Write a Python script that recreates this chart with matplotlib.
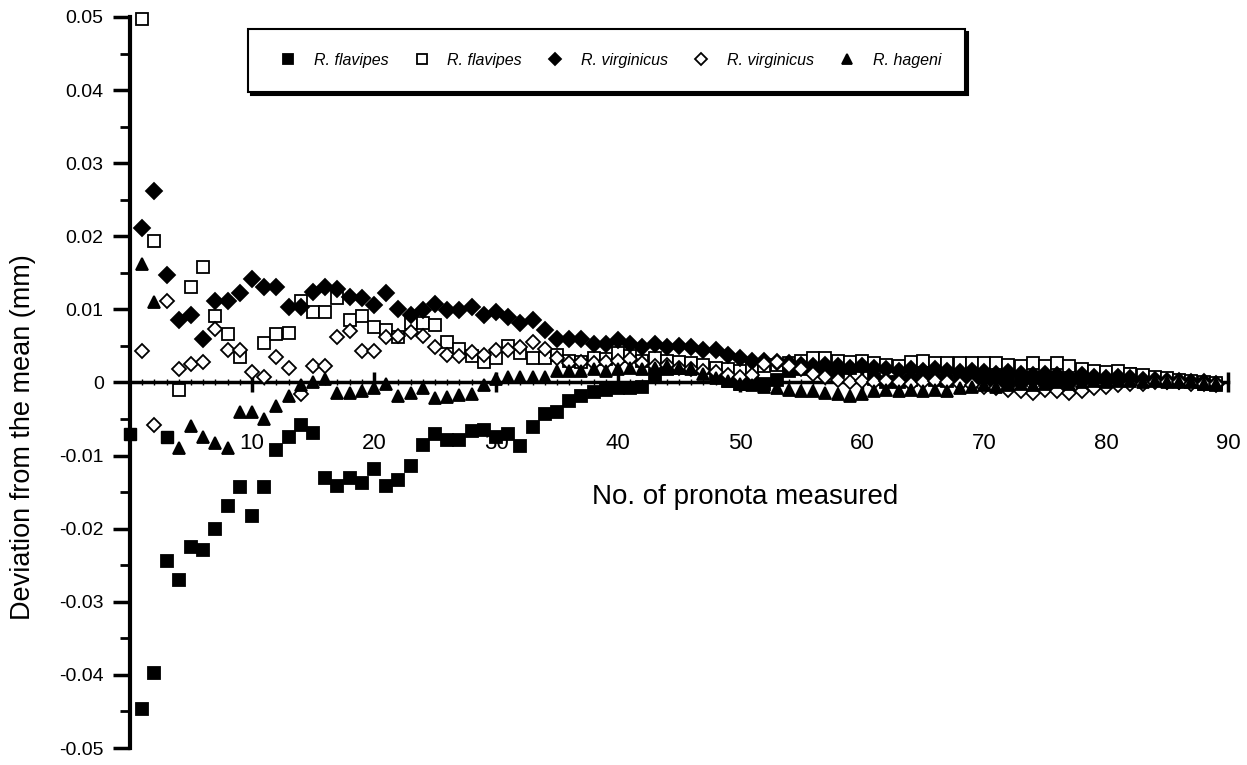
import numpy as np
import matplotlib
matplotlib.use("Agg")
import matplotlib.pyplot as plt
from matplotlib.ticker import MultipleLocator
from matplotlib.lines import Line2D

plt.rcParams['font.family'] = ['Liberation Sans', 'DejaVu Sans']

# number of pronota measured (x) for every series
n = np.arange(1, 90)
nan = np.nan

# R. flavipes (filled squares)
flav_fill = [-0.0447, -0.0397, -0.0244, -0.0270, -0.0225, -0.0229, -0.0201, -0.0169, -0.0143, -0.0183,
             -0.0143, -0.0092, -0.0074, -0.0058, -0.0069, -0.0130, -0.0141, -0.0131, -0.0138, -0.0118,
             -0.0141, -0.0134, -0.0114, -0.0085, -0.0070, -0.0078, -0.0078, -0.0067, -0.0065, -0.0075,
             -0.0071, -0.0087, -0.0061, -0.0043, -0.0041, -0.0025, -0.0019, -0.0013, -0.0010, -0.0008,
             -0.0007, -0.0006, 0.0010, 0.0018, 0.0020, 0.0022, 0.0020, 0.0008, 0.0002, -0.0002,
             0.0000, -0.0002, 0.0004, 0.0016, 0.0018, 0.0020, 0.0018, 0.0016, 0.0020, 0.0022,
             0.0005, 0.0000, 0.0000, 0.0004, 0.0006, 0.0004, 0.0002, 0.0006, 0.0008, 0.0006,
             0.0004, 0.0002, 0.0004, 0.0006, 0.0004, 0.0002, 0.0004, 0.0006, 0.0010, 0.0012,
             0.0010, 0.0012, 0.0008, 0.0006, 0.0004, 0.0002, 0.0000, -0.0002, -0.0004]
# two stray filled squares near the start
flav_fill_extra_x = [0, 3]
flav_fill_extra_y = [-0.0070, -0.0075]

# R. flavipes (open squares)
flav_open = [0.0497, 0.0193, nan, -0.0010, 0.0131, 0.0158, 0.0091, 0.0066, 0.0035, nan,
             0.0054, 0.0066, 0.0068, 0.0112, 0.0097, 0.0097, 0.0115, 0.0086, 0.0091, 0.0076,
             0.0072, 0.0062, 0.0081, 0.0081, 0.0078, 0.0055, 0.0046, 0.0036, 0.0028, 0.0034,
             0.0050, 0.0040, 0.0033, 0.0034, 0.0038, 0.0030, 0.0028, 0.0034, 0.0032, 0.0040,
             0.0036, 0.0030, 0.0034, 0.0030, 0.0028, 0.0026, 0.0024, 0.0020, 0.0018, 0.0016,
             0.0020, 0.0022, 0.0024, 0.0026, 0.0030, 0.0034, 0.0033, 0.0030, 0.0028, 0.0030,
             0.0026, 0.0024, 0.0022, 0.0028, 0.0030, 0.0026, 0.0026, 0.0027, 0.0027, 0.0026,
             0.0026, 0.0024, 0.0022, 0.0026, 0.0022, 0.0027, 0.0022, 0.0018, 0.0016, 0.0014,
             0.0016, 0.0012, 0.0010, 0.0008, 0.0006, 0.0004, 0.0002, 0.0000, -0.0001]

# R. virginicus (filled diamonds)
virg_fill = [0.0212, 0.0262, 0.0147, 0.0085, 0.0092, 0.0060, 0.0111, 0.0111, 0.0122, 0.0142,
             0.0130, 0.0130, 0.0103, 0.0103, 0.0124, 0.0131, 0.0128, 0.0117, 0.0116, 0.0106,
             0.0123, 0.0101, 0.0092, 0.0099, 0.0107, 0.0099, 0.0099, 0.0103, 0.0093, 0.0096,
             0.0090, 0.0082, 0.0086, 0.0072, 0.0059, 0.0060, 0.0060, 0.0053, 0.0053, 0.0058,
             0.0053, 0.0048, 0.0053, 0.0048, 0.0050, 0.0048, 0.0044, 0.0044, 0.0037, 0.0034,
             0.0030, 0.0030, 0.0028, 0.0026, 0.0024, 0.0022, 0.0024, 0.0022, 0.0020, 0.0022,
             0.0020, 0.0018, 0.0016, 0.0018, 0.0016, 0.0018, 0.0016, 0.0014, 0.0016, 0.0014,
             0.0012, 0.0014, 0.0012, 0.0010, 0.0012, 0.0010, 0.0008, 0.0010, 0.0008, 0.0006,
             0.0008, 0.0006, 0.0004, 0.0004, 0.0002, 0.0002, 0.0000, 0.0000, -0.0002]

# R. virginicus (open diamonds)
virg_open = [0.0043, -0.0058, 0.0111, 0.0018, 0.0025, 0.0028, 0.0073, 0.0044, 0.0045, 0.0014,
             0.0007, 0.0035, 0.0020, -0.0016, 0.0023, 0.0023, 0.0062, 0.0071, 0.0043, 0.0043,
             0.0062, 0.0063, 0.0069, 0.0064, 0.0049, 0.0038, 0.0036, 0.0042, 0.0038, 0.0045,
             0.0045, 0.0048, 0.0056, 0.0046, 0.0033, 0.0026, 0.0028, 0.0026, 0.0028, 0.0030,
             0.0032, 0.0026, 0.0022, 0.0024, 0.0020, 0.0018, 0.0016, 0.0014, 0.0010, 0.0008,
             0.0010, 0.0025, 0.0028, 0.0022, 0.0018, 0.0012, 0.0008, 0.0004, 0.0000, 0.0002,
             0.0000, 0.0002, 0.0000, -0.0002, 0.0000, 0.0002, 0.0000, -0.0002, -0.0004, -0.0006,
             -0.0008, -0.0010, -0.0012, -0.0014, -0.0010, -0.0012, -0.0014, -0.0012, -0.0008, -0.0006,
             -0.0004, -0.0002, -0.0002, 0.0000, 0.0000, 0.0000, -0.0002, -0.0002, -0.0002]

# R. hageni (filled triangles)
hageni = [0.0162, 0.0110, nan, -0.0090, -0.0060, -0.0075, -0.0083, -0.0089, -0.0040, -0.0040,
          -0.0050, -0.0032, -0.0018, -0.0004, 0.0000, 0.0005, -0.0015, -0.0015, -0.0011, -0.0008,
          -0.0002, -0.0019, -0.0015, -0.0008, -0.0021, -0.0020, -0.0017, -0.0016, -0.0004, 0.0005,
          0.0007, 0.0007, 0.0007, 0.0008, 0.0016, 0.0016, 0.0016, 0.0018, 0.0016, 0.0018,
          0.0020, 0.0018, 0.0020, 0.0022, 0.0020, 0.0019, 0.0012, 0.0006, 0.0002, -0.0002,
          -0.0004, -0.0006, -0.0008, -0.0010, -0.0012, -0.0012, -0.0014, -0.0016, -0.0018, -0.0016,
          -0.0012, -0.0010, -0.0012, -0.0010, -0.0012, -0.0010, -0.0012, -0.0008, -0.0006, -0.0004,
          -0.0006, -0.0004, -0.0002, -0.0004, -0.0002, 0.0000, -0.0002, 0.0000, 0.0002, 0.0000,
          0.0002, 0.0002, 0.0000, 0.0002, 0.0000, 0.0000, 0.0000, -0.0002, -0.0002]

legend_labels = ["R. flavipes", "R. flavipes", "R. virginicus", "R. virginicus", "R. hageni"]
x_ticks = [10, 20, 30, 40, 50, 60, 70, 80, 90]
y_ticks = [-0.05, -0.04, -0.03, -0.02, -0.01, 0, 0.01, 0.02, 0.03, 0.04, 0.05]
y_ticklabels = ["-0.05", "-0.04", "-0.03", "-0.02", "-0.01", "0", "0.01", "0.02", "0.03", "0.04", "0.05"]

fig = plt.figure(figsize=(12.47, 7.65), dpi=100)
ax = fig.add_axes([0.1043, 0.0222, 0.8805, 0.9556])

# marker styles: (marker, size, face colour)
styles = [('s', 8.5, 'black'), ('s', 8.5, 'white'), ('D', 8, 'black'), ('D', 7.5, 'white'), ('^', 9, 'black')]
series = [flav_fill, flav_open, virg_fill, virg_open, hageni]

for (mk, ms, fc), ys in zip(styles, series):
    ax.plot(n, ys, ls='none', marker=mk, ms=ms, mfc=fc, mec='black', mew=1.3, clip_on=False, zorder=3)
ax.plot(flav_fill_extra_x, flav_fill_extra_y, ls='none', marker='s', ms=8.5, mfc='black', mec='black',
        clip_on=False, zorder=3)

ax.set_xlim(0, 90)
ax.set_ylim(-0.05, 0.05)

ax.spines['top'].set_visible(False)
ax.spines['right'].set_visible(False)
ax.spines['bottom'].set_position(('data', 0))
ax.spines['bottom'].set_linewidth(2.5)
ax.spines['left'].set_linewidth(3)

ax.set_xticks(x_ticks)
ax.set_xticklabels([str(t) for t in x_ticks])
ax.xaxis.set_minor_locator(MultipleLocator(1))
ax.set_yticks(y_ticks)
ax.set_yticklabels(y_ticklabels)
ax.yaxis.set_minor_locator(MultipleLocator(0.005))

ax.tick_params(axis='x', which='major', direction='inout', length=15, width=2.5, pad=29, labelsize=16)
ax.tick_params(axis='x', which='minor', direction='inout', length=4, width=1)
ax.tick_params(axis='y', which='major', direction='out', length=12, width=2.5, pad=7, labelsize=14)
ax.tick_params(axis='y', which='minor', direction='out', length=7, width=2)

ax.set_ylabel("Deviation from the mean (mm)", fontsize=19.5)
ax.yaxis.set_label_coords(-0.086, 0.425)
ax.set_xlabel("No. of pronota measured", fontsize=20)
ax.xaxis.label.set_va('center')
ax.xaxis.set_label_coords(0.56, 0.343)

handles = [Line2D([], [], ls='none', marker=mk, ms=ms * 0.8, mfc=fc, mec='black', mew=1.3)
           for mk, ms, fc in styles]
leg = fig.legend(handles, legend_labels, ncol=5, loc='lower left', mode='expand',
                 bbox_to_anchor=(0.199, 0.880, 0.575, 0.081), borderaxespad=0, frameon=True, fancybox=False,
                 shadow={'color': 'black', 'alpha': 1}, edgecolor='black', borderpad=1.5,
                 handletextpad=0.6, columnspacing=1.5, prop={'style': 'italic', 'size': 11.5})
leg.get_frame().set_linewidth(1.5)
leg.get_frame().set_alpha(1)

fig.savefig("out.png", dpi=100)
